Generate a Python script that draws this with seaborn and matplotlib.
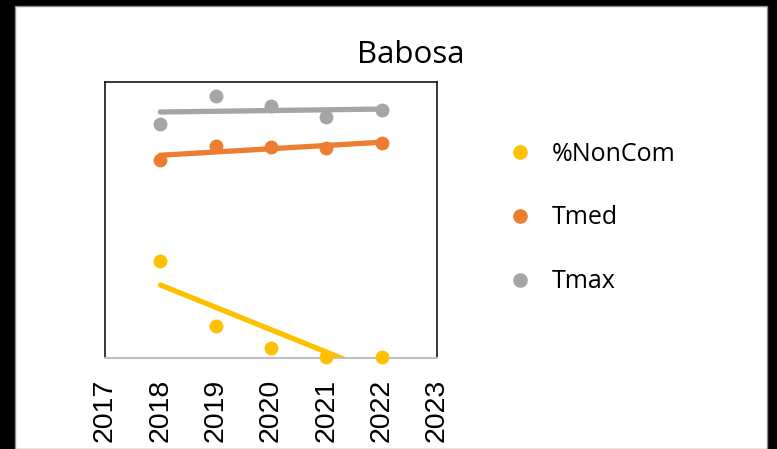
import matplotlib
matplotlib.use("Agg")
import matplotlib.pyplot as plt
from matplotlib.patches import Rectangle
from matplotlib.lines import Line2D
import seaborn as sns

# --- data (axis has no y labels, 0-100 scale) ---
years = [2018, 2019, 2020, 2021, 2022]
tick_years = [2017, 2018, 2019, 2020, 2021, 2022, 2023]
noncom = [35.3, 11.6, 3.6, 0.5, 0.3]
tmed = [71.7, 76.8, 76.6, 76.0, 78.0]
tmax = [84.8, 94.9, 91.3, 87.4, 89.9]

series_names = ['%NonCom', 'Tmed', 'Tmax']
series_values = [noncom, tmed, tmax]
series_colors = ['#FFC000', '#ED7D31', '#A5A5A5']

sns.set_style("white")
plt.rcParams['font.family'] = ['Open Sans', 'DejaVu Sans']
plt.rcParams['text.color'] = 'black'
plt.rcParams['xtick.color'] = 'black'

fig = plt.figure(figsize=(7.77, 4.49), dpi=100, facecolor='black')

# white chart area inside the black frame
W, H = 777, 449
fig.patches.append(Rectangle((15 / W, 0), (767 - 15) / W, (449 - 6) / H,
                             transform=fig.transFigure, facecolor='white',
                             edgecolor='#8c8c8c', lw=1.0, zorder=-10))

ax = fig.add_axes([105 / W, (H - 358) / H, (437 - 105) / W, (358 - 82) / H])
ax.set_facecolor('white')

for name, vals, col in zip(series_names, series_values, series_colors):
    sns.regplot(x=years, y=vals, ax=ax, ci=None, truncate=True, color=col,
                scatter_kws={'s': 100, 'alpha': 1, 'linewidths': 0, 'clip_on': False, 'zorder': 3},
                line_kws={'lw': 3.8, 'solid_capstyle': 'round', 'zorder': 2})

ax.set_xlim(2017, 2023)
ax.set_ylim(0, 100)
ax.set_yticks([])
ax.set_xticks(tick_years)
ax.set_xticklabels([str(y) for y in tick_years], rotation=90,
                   fontsize=20.5, family=['Liberation Sans', 'DejaVu Sans'])
ax.tick_params(axis='x', length=0, pad=15, labelcolor='black')
ax.set_xlabel('')
ax.set_ylabel('')

for side in ['left', 'right', 'top']:
    ax.spines[side].set_color('black')
    ax.spines[side].set_linewidth(1.1)
ax.spines['bottom'].set_color('#bfbfbf')
ax.spines['bottom'].set_linewidth(1.5)

fig.text(411 / W, (H - 55) / H, 'Babosa', ha='center', va='center',
         fontsize=22.5, color='black')

handles = [Line2D([], [], marker='o', linestyle='', color=c, markersize=9.5)
           for c in series_colors]
leg = fig.legend(handles, series_names, loc='center left',
                 bbox_to_anchor=(507.5 / W, (H - 218) / H), frameon=False,
                 fontsize=18, handlelength=1.0, handletextpad=0.78,
                 labelspacing=1.55, borderpad=0, borderaxespad=0)
for t in leg.get_texts():
    t.set_color('black')

plt.savefig('out.png', dpi=100, facecolor=fig.get_facecolor())
